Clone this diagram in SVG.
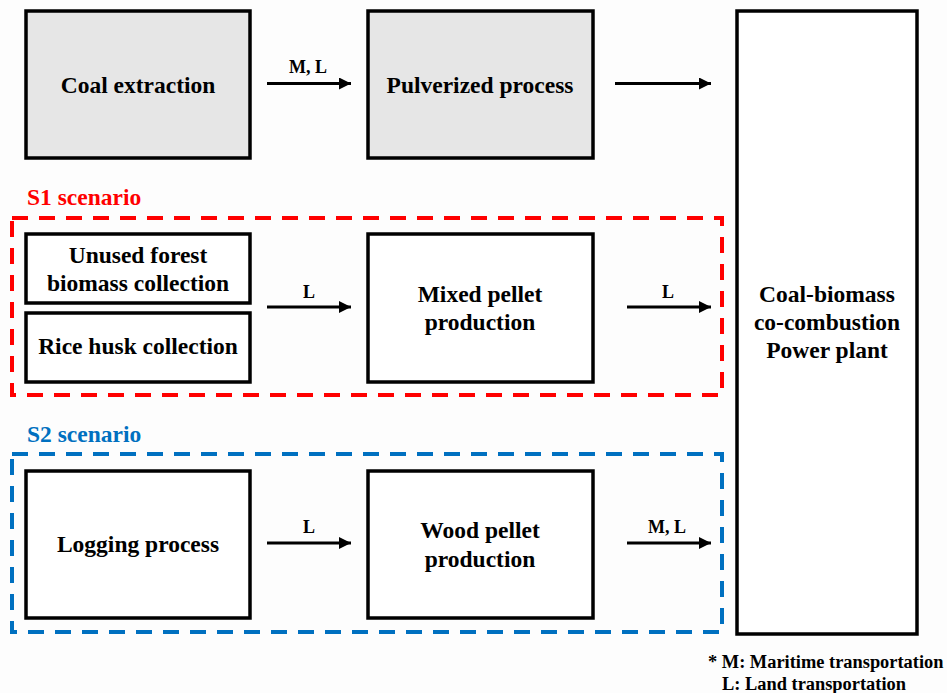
<svg xmlns="http://www.w3.org/2000/svg" width="947" height="693" viewBox="0 0 947 693">
<style>
.box{stroke:#000;stroke-width:3.5;fill:#fff}
.gray{fill:#e6e6e6}
.t{font-family:"Liberation Serif","Times New Roman",serif;font-weight:bold;font-size:23.5px;fill:#000;text-anchor:middle}
.lbl{font-family:"Liberation Serif","Times New Roman",serif;font-weight:bold;font-size:18px;fill:#000;text-anchor:middle}
.note{font-family:"Liberation Serif","Times New Roman",serif;font-weight:bold;font-size:18.4px;fill:#000}
.sc{font-family:"Liberation Serif","Times New Roman",serif;font-weight:bold;font-size:23.5px}
.dash{fill:none;stroke-width:4;stroke-dasharray:16 11}
.arr{stroke:#000;stroke-width:3;fill:none;marker-end:url(#ah)}
</style>
<defs>
<marker id="ah" markerWidth="12" markerHeight="12" refX="10" refY="5" orient="auto" markerUnits="userSpaceOnUse" viewBox="0 0 10 10">
<path d="M0,0 L10,5 L0,10 Z" fill="#000"/>
</marker>
</defs>
<rect width="947" height="693" fill="#fdfdfd"/>
<g id="s1-group">
<rect class="dash" x="12" y="218" width="710" height="177" stroke="#ff0000"/>
<text class="sc" x="27" y="205" fill="#ff0000">S1 scenario</text>
</g>
<g id="s2-group">
<rect class="dash" x="12" y="454" width="710" height="178" stroke="#0070c0"/>
<text class="sc" x="27" y="442" fill="#0070c0">S2 scenario</text>
</g>
<g id="coal-extraction">
<rect class="box gray" x="26" y="11" width="224" height="147"/>
<text class="t" x="138" y="93">Coal extraction</text>
</g>
<g id="pulverized">
<rect class="box gray" x="368" y="11" width="225" height="147"/>
<text class="t" x="480" y="93">Pulverized process</text>
</g>
<g id="power-plant">
<rect class="box" x="737" y="11" width="180" height="623"/>
<text class="t" x="827" y="302">Coal-biomass</text>
<text class="t" x="827" y="330">co-combustion</text>
<text class="t" x="827" y="358">Power plant</text>
</g>
<g id="unused-forest">
<rect class="box" x="26" y="234" width="224" height="69"/>
<text class="t" x="138" y="263">Unused forest</text>
<text class="t" x="138" y="291">biomass collection</text>
</g>
<g id="rice-husk">
<rect class="box" x="26" y="313" width="224" height="69"/>
<text class="t" x="138" y="354">Rice husk collection</text>
</g>
<g id="mixed-pellet">
<rect class="box" x="368" y="234" width="225" height="148"/>
<text class="t" x="480" y="302">Mixed pellet</text>
<text class="t" x="480" y="330">production</text>
</g>
<g id="logging">
<rect class="box" x="26" y="471" width="224" height="147"/>
<text class="t" x="138" y="552">Logging process</text>
</g>
<g id="wood-pellet">
<rect class="box" x="368" y="471" width="225" height="147"/>
<text class="t" x="480" y="538">Wood pellet</text>
<text class="t" x="480" y="567">production</text>
</g>
<g id="connectors">
<line class="arr" x1="267" y1="83.5" x2="351" y2="83.5"/>
<text class="lbl" x="308" y="73">M, L</text>
<line class="arr" x1="615" y1="83.5" x2="711" y2="83.5"/>
<line class="arr" x1="267" y1="307" x2="351" y2="307"/>
<text class="lbl" x="309" y="298">L</text>
<line class="arr" x1="627" y1="307" x2="711" y2="307"/>
<text class="lbl" x="668" y="298">L</text>
<line class="arr" x1="267" y1="543" x2="351" y2="543"/>
<text class="lbl" x="309" y="533">L</text>
<line class="arr" x1="627" y1="543" x2="711" y2="543"/>
<text class="lbl" x="667" y="533">M, L</text>
</g>
<g id="footnote">
<text class="note" x="708" y="668">* M: Maritime transportation</text>
<text class="note" x="722" y="690">L: Land transportation</text>
</g>
</svg>
